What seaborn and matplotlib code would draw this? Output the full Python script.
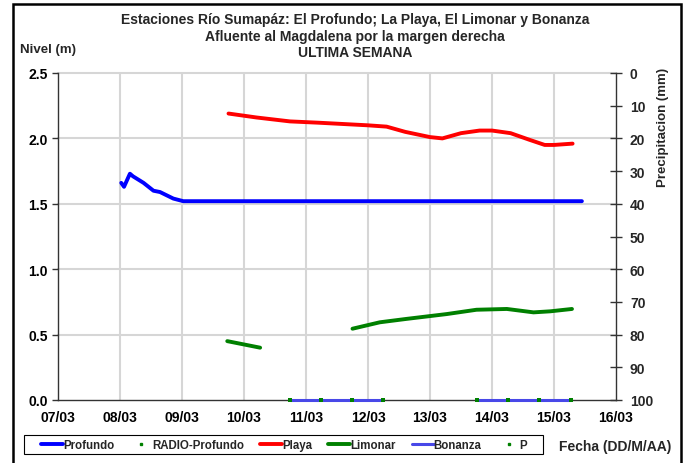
import matplotlib
matplotlib.use("Agg")
import matplotlib.pyplot as plt
import seaborn as sns
import pandas as pd
import numpy as np
from matplotlib.lines import Line2D
from matplotlib.patches import Rectangle

# --- data (x = day of March, fractional) ---
profundo_x = [8.02, 8.065, 8.16, 8.21, 8.38, 8.54, 8.645, 8.86, 9.02, 15.45]
profundo_y = [1.66, 1.63, 1.73, 1.71, 1.66, 1.60, 1.59, 1.54, 1.52, 1.52]

playa_x = [9.75, 10.2, 10.74, 11.2, 12.0, 12.3, 12.6, 13.0, 13.2, 13.5, 13.8, 14.0, 14.3, 14.6, 14.85, 15.0, 15.3]
playa_y = [2.19, 2.16, 2.13, 2.12, 2.10, 2.09, 2.05, 2.01, 2.00, 2.04, 2.06, 2.06, 2.04, 1.99, 1.95, 1.95, 1.96]

limonar_x = [9.73, 10.26, np.nan, 11.75, 12.19, 12.62, 13.27, 13.75, 14.24, 14.67, 14.94, 15.29]
limonar_y = [0.45, 0.40, np.nan, 0.545, 0.594, 0.62, 0.657, 0.69, 0.696, 0.67, 0.678, 0.696]

bonanza_x = [10.74, 12.24, np.nan, 13.76, 15.27]
bonanza_y = [0.0, 0.0, np.nan, 0.0, 0.0]

p_x = [10.74, 11.24, 11.74, 12.24, 13.76, 14.26, 14.76, 15.27]
p_y = [0, 0, 0, 0, 0, 0, 0, 0]

day_ticks = list(range(7, 17))
day_labels = [f"{d:02d}/03" for d in day_ticks]
nivel_ticks = [0.0, 0.5, 1.0, 1.5, 2.0, 2.5]
precip_ticks = list(range(0, 101, 10))

sns.set_theme(style="white")
plt.rcParams['font.family'] = ['Liberation Sans', 'DejaVu Sans']
plt.rcParams['font.weight'] = 'bold'

fig = plt.figure(figsize=(6.86, 4.64), dpi=100)
ax = fig.add_axes([58 / 686, 1 - 401 / 464, 558 / 686, 327 / 464])

grid_c = "#d6d6d6"
ax.set_xlim(7, 16)
ax.set_ylim(0, 2.5)
ax.set_xticks(day_ticks)
ax.set_xticklabels(day_labels)
ax.set_yticks(nivel_ticks)
ax.set_yticklabels([f"{v:.1f}" for v in nivel_ticks])
for v in day_ticks[1:-1]:
    ax.axvline(v, color=grid_c, lw=1.5, zorder=0)
for v in nivel_ticks[1:]:
    ax.axhline(v, color=grid_c, lw=1.5, zorder=0, clip_on=False)

def segs(xs, ys):
    # split at NaN so gaps stay gaps
    df = pd.DataFrame({"x": xs, "y": ys})
    df["seg"] = df["x"].isna().cumsum()
    return [g.dropna() for _, g in df.groupby("seg")]

for d in segs(profundo_x, profundo_y):
    sns.lineplot(data=d, x="x", y="y", ax=ax, color="#0000ff", lw=2.8, sort=False)
for d in segs(playa_x, playa_y):
    sns.lineplot(data=d, x="x", y="y", ax=ax, color="#ff0000", lw=2.8, sort=False)
for d in segs(limonar_x, limonar_y):
    sns.lineplot(data=d, x="x", y="y", ax=ax, color="#008000", lw=2.8, sort=False)
for d in segs(bonanza_x, bonanza_y):
    sns.lineplot(data=d, x="x", y="y", ax=ax, color="#4848e8", lw=2.2, sort=False)
    ax.lines[-1].set_clip_on(False)
    ax.lines[-1].set_zorder(6)
sns.scatterplot(x=p_x, y=p_y, ax=ax, color="#008000", s=9, marker="s",
                linewidth=0, zorder=7, clip_on=False)

ax.set_xlabel("")
ax.set_ylabel("")
for s in ["top", "right"]:
    ax.spines[s].set_visible(False)
for s in ["left", "bottom"]:
    ax.spines[s].set_color("#333333")
    ax.spines[s].set_linewidth(1.0)
ax.tick_params(axis="both", which="major", direction="out", length=4, width=1,
               color="#333333", labelsize=10, colors="black")
ax.tick_params(axis="x", direction="inout", length=6, pad=4)

ax2 = ax.twinx()
ax2.set_ylim(100, 0)
ax2.set_yticks(precip_ticks)
ax2.set_yticklabels([str(v) for v in precip_ticks])
for s in ["top", "left", "bottom"]:
    ax2.spines[s].set_visible(False)
ax2.spines["right"].set_color("#333333")
ax2.spines["right"].set_linewidth(1.0)
ax2.tick_params(axis="y", direction="inout", length=8, width=1, color="#333333",
                labelsize=10, pad=6)
ax2.grid(False)

for lbl in ax.get_xticklabels() + ax.get_yticklabels() + ax2.get_yticklabels():
    lbl.set_fontweight("bold")

# titles and axis captions
tkw = dict(ha="center", va="center", fontsize=10, fontweight="bold")
fig.text(355 / 686, 1 - 20 / 464, "Estaciones Río Sumapáz: El Profundo; La Playa, El Limonar y Bonanza", **tkw)
fig.text(355 / 686, 1 - 37 / 464, "Afluente al Magdalena por la margen derecha", **tkw)
fig.text(355 / 686, 1 - 53 / 464, "ULTIMA SEMANA", **tkw)
fig.text(20 / 686, 1 - 50 / 464, "Nivel (m)", ha="left", va="center", fontsize=9.5, fontweight="bold")
fig.text(663 / 686, 1 - 68 / 464, "Precipitacion (mm)", rotation=90, ha="center", va="top",
         fontsize=9.5, fontweight="bold")
fig.text(671 / 686, 1 - 447 / 464, "Fecha (DD/M/AA)", ha="right", va="center",
         fontsize=10, fontweight="bold")

handles = [
    Line2D([], [], color="#0000ff", lw=2.8),
    Line2D([], [], color="#008000", marker="s", ms=2, lw=0),
    Line2D([], [], color="#ff0000", lw=2.8),
    Line2D([], [], color="#008000", lw=2.8),
    Line2D([], [], color="#4848e8", lw=2.2),
    Line2D([], [], color="#008000", marker="s", ms=2, lw=0),
]
labels = ["Profundo", "RADIO-Profundo", "Playa", "Limonar", "Bonanza", "P"]
leg = fig.legend(handles, labels, loc="center left", bbox_to_anchor=(41 / 686, 1 - 446 / 464),
                 ncol=6, frameon=False, handlelength=1.9, handletextpad=0.0,
                 columnspacing=1.4, borderpad=0.0, borderaxespad=0.0,
                 prop={"size": 8.3, "weight": "bold"})

# legend box and outer frame
fig.add_artist(Rectangle((24 / 686, 1 - 455 / 464), 519 / 686, 19 / 464, transform=fig.transFigure,
                         fill=False, ec="black", lw=0.8))
fig.add_artist(Rectangle((13 / 686, -0.01), 668 / 686, 1 - 5 / 464 + 0.01, transform=fig.transFigure,
                         fill=False, ec="black", lw=1.8))

fig.savefig("out.png", dpi=100)
